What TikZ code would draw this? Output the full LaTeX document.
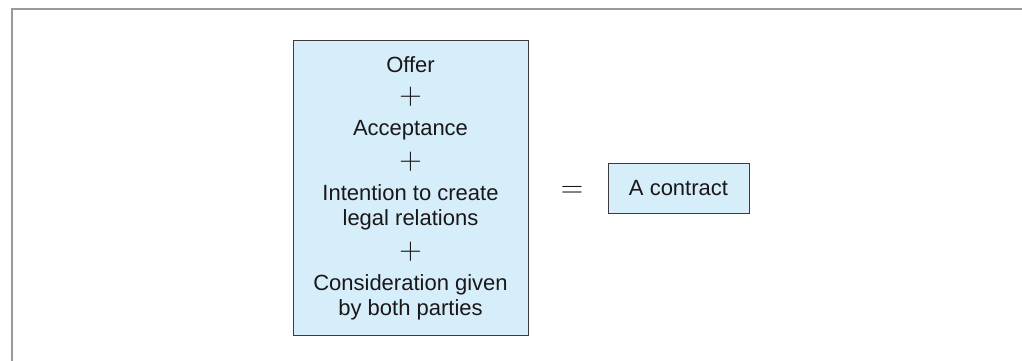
\documentclass[tikz,border=0pt]{standalone}
\usepackage{fontspec}
\setmainfont{Liberation Sans}
\definecolor{boxfill}{HTML}{D6EEFA}
\definecolor{framegray}{HTML}{9A9A9C}
\definecolor{ink}{HTML}{1A1718}
\tikzset{
  txt/.style={text=ink, font=\fontsize{22}{25}\selectfont, inner sep=0pt, align=center},
  sym/.style={text=ink, font=\fontsize{24}{24}\selectfont, inner sep=0pt},
  bluebox/.style={draw=ink!85, line width=0.9pt, fill=boxfill}
}
\newcommand{\bigsym}[1]{\scalebox{1.25}{$#1$}}
\begin{document}
\begin{tikzpicture}[x=1pt,y=-1pt]
\useasboundingbox (0,0) rectangle (1022,361);
\draw[framegray, line width=2.2pt] (12,361) -- (12,9) -- (1022,9);
\node[bluebox, minimum width=235pt, minimum height=295pt, inner sep=0pt] (main) at (410.5,187.5) {};
\node[bluebox, minimum width=141pt, minimum height=50pt, inner sep=0pt] (contract) at (678.5,188) {};
\node[txt] (offer) at (410.5,65) {Offer};
\node[sym] (p1) at (410.5,97) {\bigsym{+}};
\node[txt] (acc) at (410.5,130) {Acceptance};
\node[sym] (p2) at (410.5,162) {\bigsym{+}};
\node[txt] (int) at (410.5,207.5) {Intention to create\\legal relations};
\node[sym] (p3) at (410.5,252) {\bigsym{+}};
\node[txt] (cons) at (410.5,297.5) {Consideration given\\by both parties};
\node[sym] (eq) at (572,192) {\bigsym{=}};
\node[txt] (ac) at (contract.center) {A contract};
\end{tikzpicture}
\end{document}
